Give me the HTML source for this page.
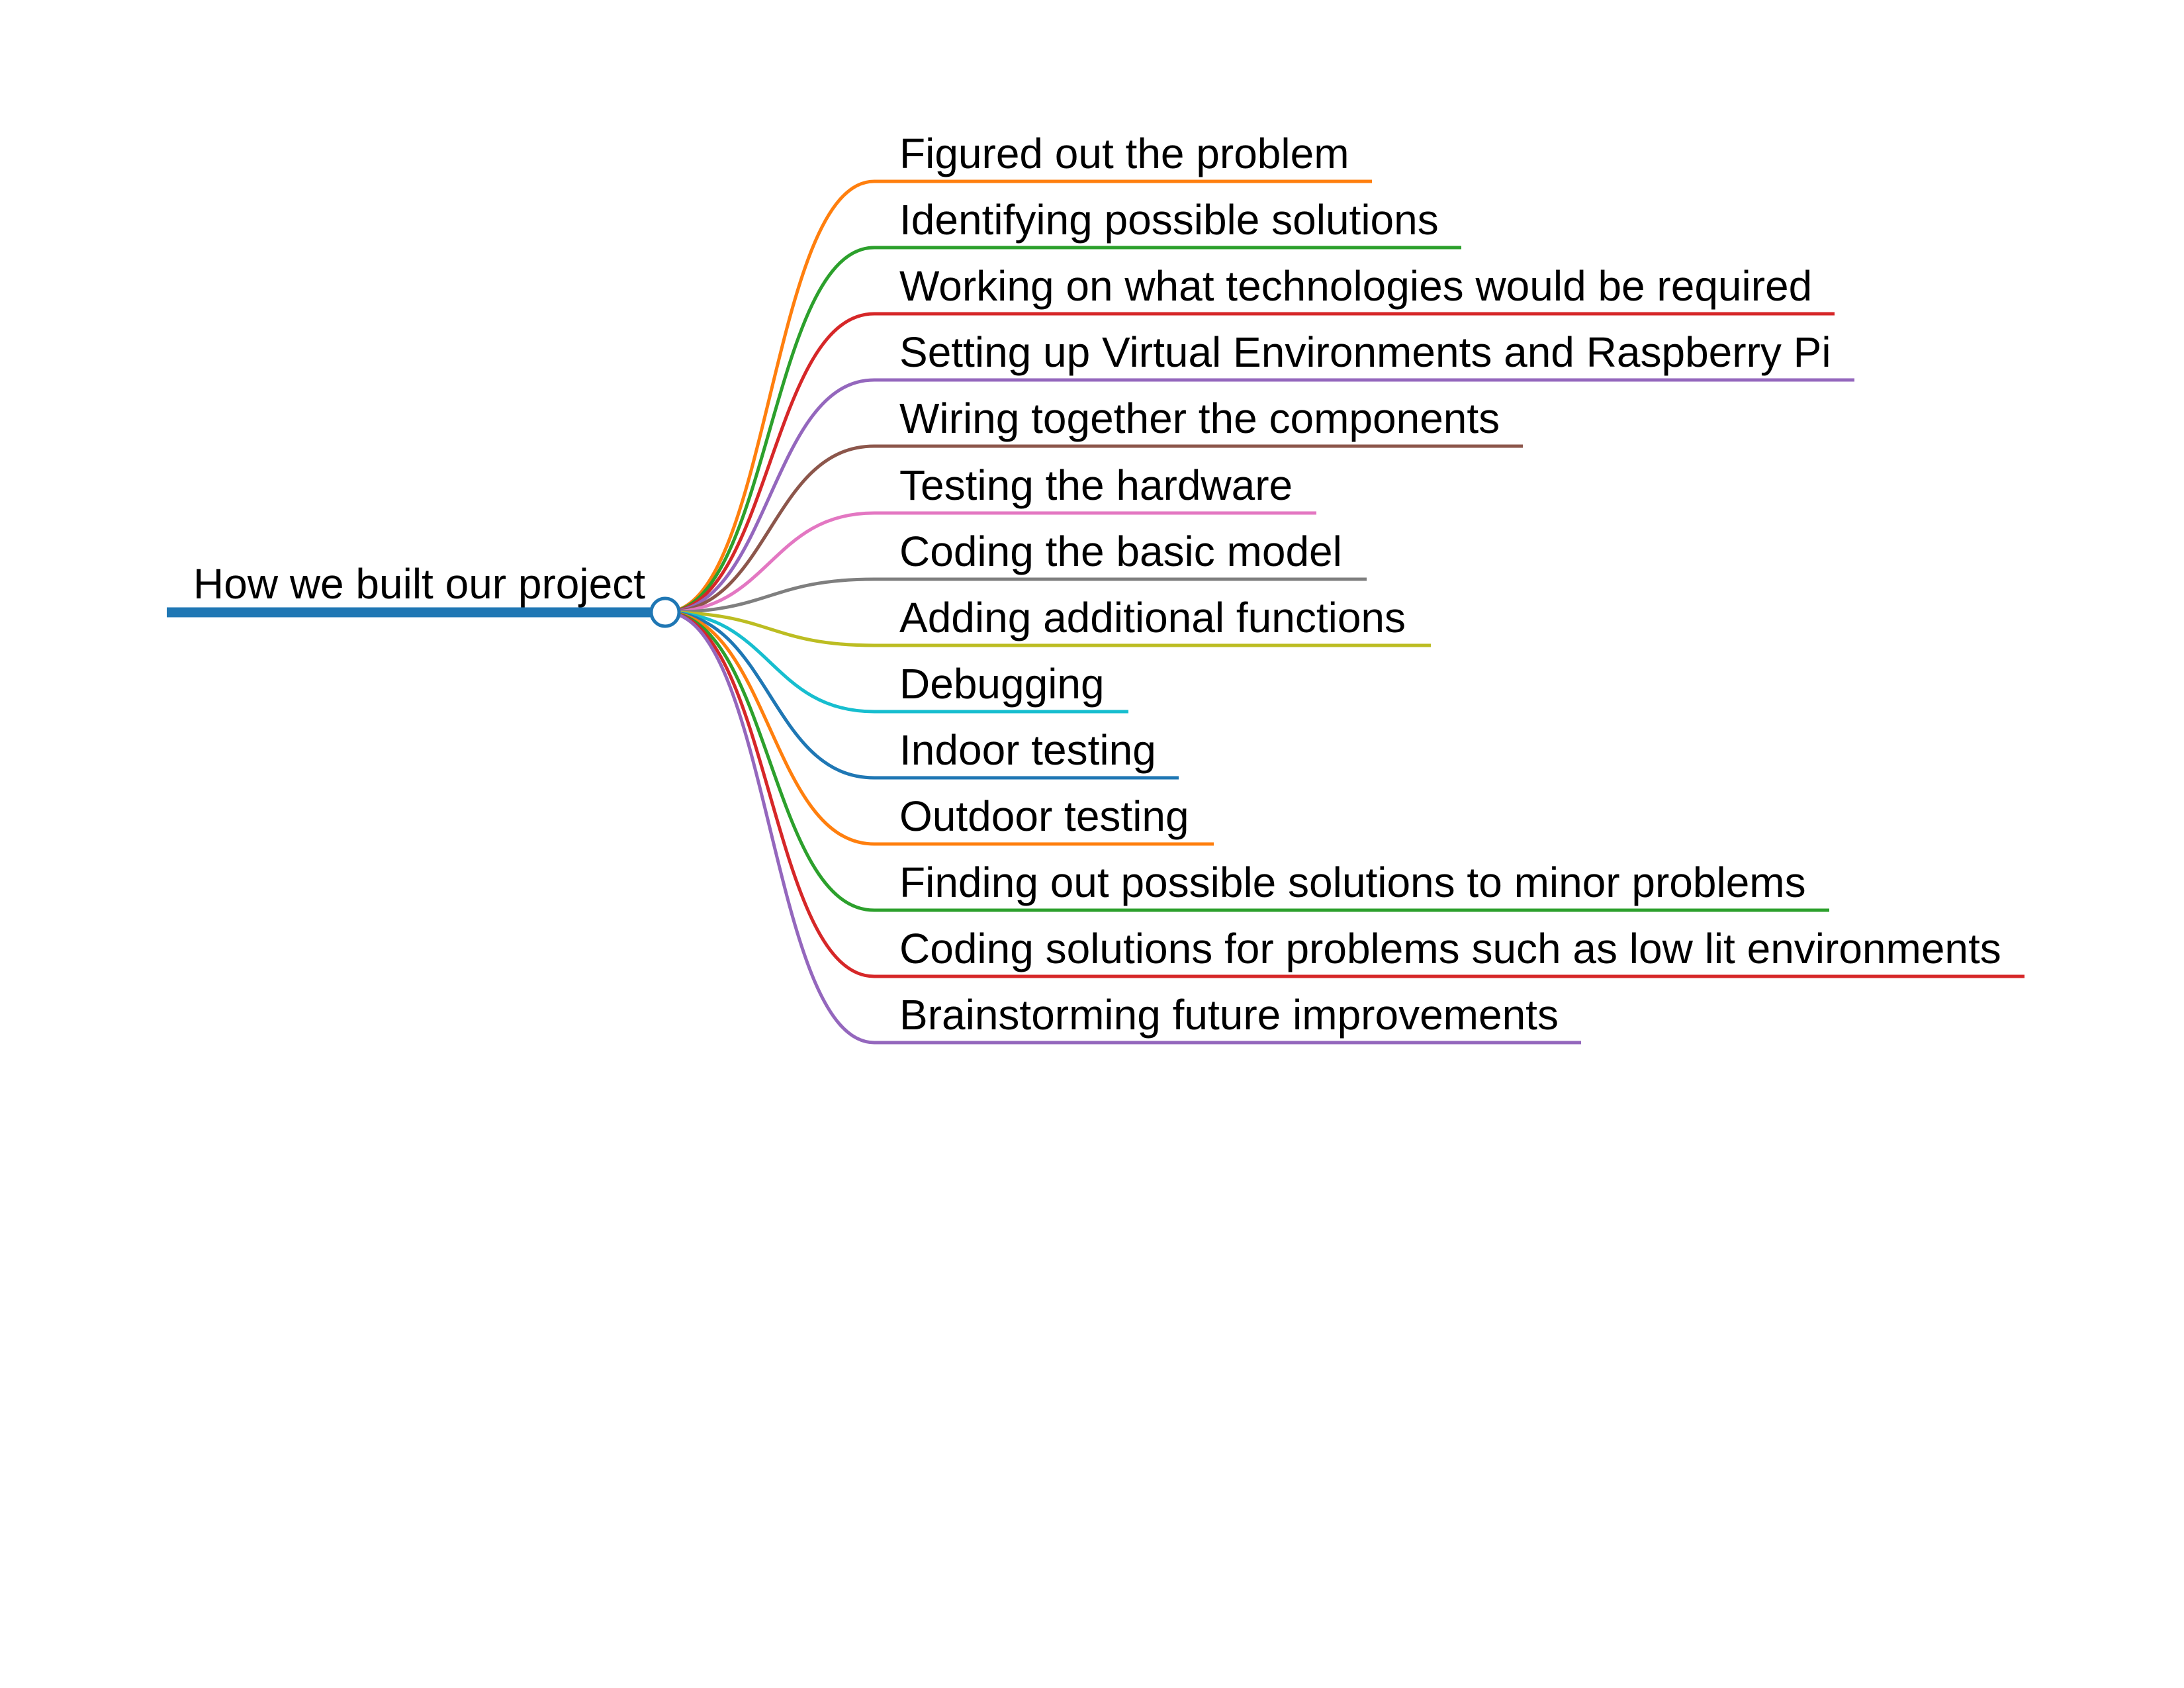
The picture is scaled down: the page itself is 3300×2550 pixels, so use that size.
<!DOCTYPE html>
<html><head><meta charset="utf-8"><style>
html,body{margin:0;padding:0;background:#fff;}
svg{display:block;}
text{font-family:"Liberation Sans",Arial,sans-serif;font-size:64px;fill:#000;}
</style></head><body>
<svg width="3300" height="2550" viewBox="0 0 3300 2550" xmlns="http://www.w3.org/2000/svg">
<rect width="3300" height="2550" fill="#fff"/>
<line x1="252" y1="925" x2="1000" y2="925" stroke="#1f77b4" stroke-width="15"/>
<text x="292" y="904">How we built our project</text>
<g fill="none" stroke-width="5">
<path d="M1005 925 C1163 925 1163 274 1321 274 H2073" stroke="#ff7f0e"/>
<path d="M1005 925 C1163 925 1163 374 1321 374 H2208" stroke="#2ca02c"/>
<path d="M1005 925 C1163 925 1163 474 1321 474 H2772" stroke="#d62728"/>
<path d="M1005 925 C1163 925 1163 574 1321 574 H2802" stroke="#9467bd"/>
<path d="M1005 925 C1163 925 1163 674 1321 674 H2301" stroke="#8c564b"/>
<path d="M1005 925 C1163 925 1163 775 1321 775 H1989" stroke="#e377c2"/>
<path d="M1005 925 C1163 925 1163 875 1321 875 H2065" stroke="#7f7f7f"/>
<path d="M1005 925 C1163 925 1163 975 1321 975 H2162" stroke="#bcbd22"/>
<path d="M1005 925 C1163 925 1163 1075 1321 1075 H1705" stroke="#17becf"/>
<path d="M1005 925 C1163 925 1163 1175 1321 1175 H1781" stroke="#1f77b4"/>
<path d="M1005 925 C1163 925 1163 1275 1321 1275 H1834" stroke="#ff7f0e"/>
<path d="M1005 925 C1163 925 1163 1375 1321 1375 H2764" stroke="#2ca02c"/>
<path d="M1005 925 C1163 925 1163 1475 1321 1475 H3059" stroke="#d62728"/>
<path d="M1005 925 C1163 925 1163 1575 1321 1575 H2389" stroke="#9467bd"/>
</g>
<circle cx="1005" cy="925" r="21" fill="#fff" stroke="#1f77b4" stroke-width="5"/>
<text x="1359" y="254">Figured out the problem</text>
<text x="1359" y="354">Identifying possible solutions</text>
<text x="1359" y="454">Working on what technologies would be required</text>
<text x="1359" y="554">Setting up Virtual Environments and Raspberry Pi</text>
<text x="1359" y="654">Wiring together the components</text>
<text x="1359" y="755">Testing the hardware</text>
<text x="1359" y="855">Coding the basic model</text>
<text x="1359" y="955">Adding additional functions</text>
<text x="1359" y="1055">Debugging</text>
<text x="1359" y="1155">Indoor testing</text>
<text x="1359" y="1255">Outdoor testing</text>
<text x="1359" y="1355">Finding out possible solutions to minor problems</text>
<text x="1359" y="1455">Coding solutions for problems such as low lit environments</text>
<text x="1359" y="1555">Brainstorming future improvements</text>
</svg>
</body></html>
